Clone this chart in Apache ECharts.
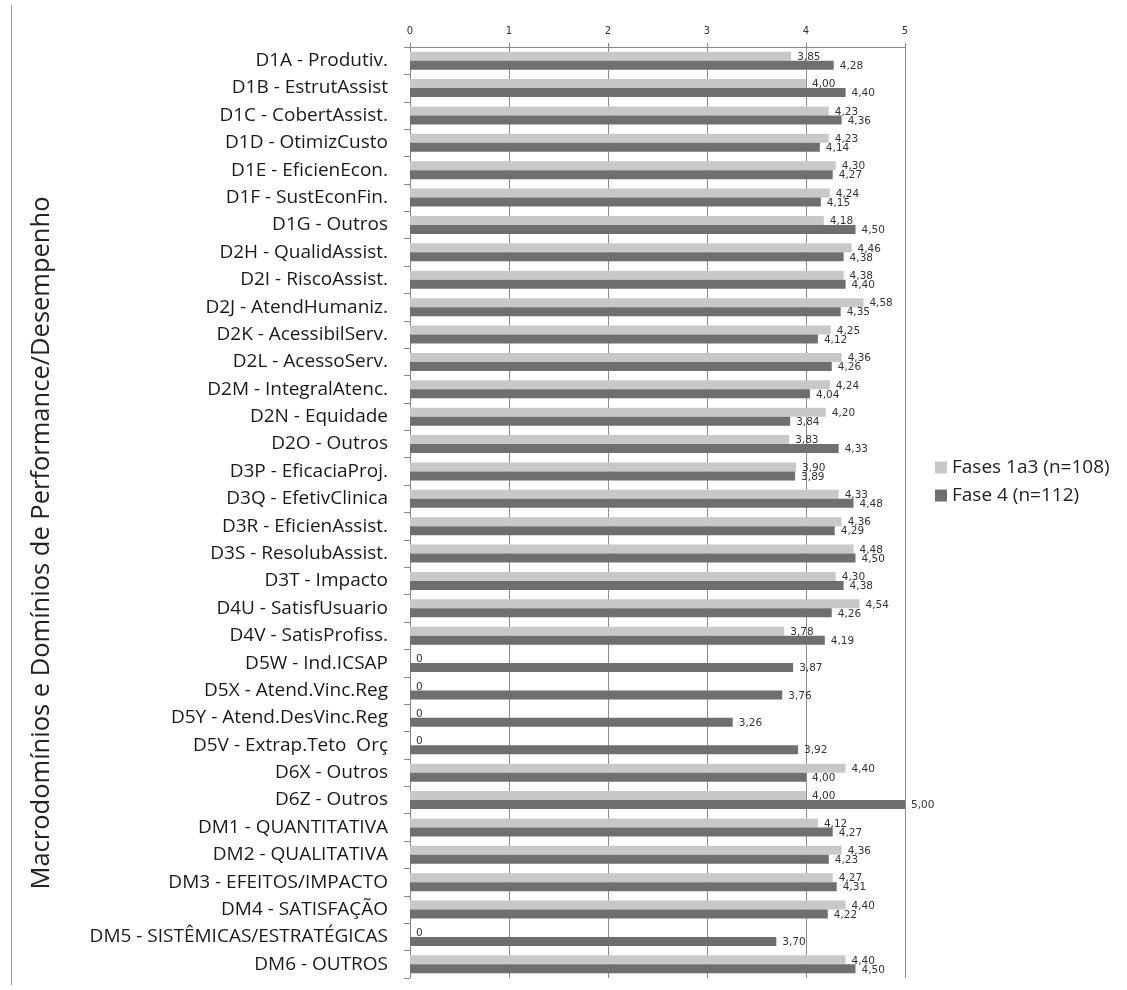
<!DOCTYPE html>
<html>
<head>
<meta charset="utf-8">
<script src="https://cdn.jsdelivr.net/npm/echarts@6/dist/echarts.min.js"></script>
<style>
  html, body { margin: 0; padding: 0; background: #ffffff; }
  #chart { width: 1127px; height: 990px; }
</style>
</head>
<body>
<div id="chart"></div>
<script>
// Domain categories, listed top to bottom
const categories = [
  'D1A - Produtiv.', 'D1B - EstrutAssist', 'D1C - CobertAssist.', 'D1D - OtimizCusto',
  'D1E - EficienEcon.', 'D1F - SustEconFin.', 'D1G - Outros', 'D2H - QualidAssist.',
  'D2I - RiscoAssist.', 'D2J - AtendHumaniz.', 'D2K - AcessibilServ.', 'D2L - AcessoServ.',
  'D2M - IntegralAtenc.', 'D2N - Equidade', 'D2O - Outros', 'D3P - EficaciaProj.',
  'D3Q - EfetivClinica', 'D3R - EficienAssist.', 'D3S - ResolubAssist.', 'D3T - Impacto',
  'D4U - SatisfUsuario', 'D4V - SatisProfiss.', 'D5W - Ind.ICSAP', 'D5X - Atend.Vinc.Reg',
  'D5Y - Atend.DesVinc.Reg', 'D5V - Extrap.Teto  Orç', 'D6X - Outros', 'D6Z - Outros',
  'DM1 - QUANTITATIVA', 'DM2 - QUALITATIVA', 'DM3 - EFEITOS/IMPACTO', 'DM4 - SATISFAÇÃO',
  'DM5 - SISTÊMICAS/ESTRATÉGICAS', 'DM6 - OUTROS'
];

// Mean scores, phases 1 to 3
const fases1a3 = [
  3.85, 4.00, 4.23, 4.23, 4.30, 4.24, 4.18, 4.46, 4.38, 4.58, 4.25, 4.36,
  4.24, 4.20, 3.83, 3.90, 4.33, 4.36, 4.48, 4.30, 4.54, 3.78, 0, 0,
  0, 0, 4.40, 4.00, 4.12, 4.36, 4.27, 4.40, 0, 4.40
];

// Mean scores, phase 4
const fase4 = [
  4.28, 4.40, 4.36, 4.14, 4.27, 4.15, 4.50, 4.38, 4.40, 4.35, 4.12, 4.26,
  4.04, 3.84, 4.33, 3.89, 4.48, 4.29, 4.50, 4.38, 4.26, 4.19, 3.87, 3.76,
  3.26, 3.92, 4.00, 5.00, 4.27, 4.23, 4.31, 4.22, 3.70, 4.50
];

const seriesNames = ['Fases 1a3 (n=108)', 'Fase 4 (n=112)'];
const valueTicks = [0, 1, 2, 3, 4, 5];
const axisTitle = 'Macrodomínios e Domínios de Performance/Desempenho';

const fmt = v => (v === 0 ? '0' : v.toFixed(2).replace('.', ','));

const chart = echarts.init(document.getElementById('chart'));

const labelStyle = {
  show: true,
  position: 'right',
  distance: 6,
  fontFamily: 'DejaVu Sans',
  fontSize: 10.5,
  color: '#333333',
  formatter: p => fmt(p.value)
};

chart.setOption({
  animation: false,
  backgroundColor: '#ffffff',
  grid: { left: 410, right: 222, top: 47, bottom: 12 },
  legend: {
    orient: 'vertical',
    left: 930,
    top: 453,
    itemWidth: 12,
    itemHeight: 12,
    itemGap: 9,
    icon: 'rect',
    textStyle: { fontFamily: 'Open Sans', fontSize: 19, color: '#222222' },
    data: seriesNames
  },
  xAxis: {
    type: 'value',
    position: 'top',
    min: valueTicks[0],
    max: valueTicks[valueTicks.length - 1],
    interval: 1,
    axisLine: { show: true, lineStyle: { color: '#888888', width: 1 } },
    axisTick: { show: true, length: 4, lineStyle: { color: '#888888' } },
    axisLabel: { fontFamily: 'DejaVu Sans', fontSize: 10, color: '#333333', margin: 11 },
    splitLine: { show: true, lineStyle: { color: '#8c8c8c', width: 1 } }
  },
  yAxis: {
    type: 'category',
    inverse: true,
    data: categories,
    axisLine: { show: true, lineStyle: { color: '#888888', width: 1 } },
    axisTick: { show: true, length: 6, lineStyle: { color: '#888888' } },
    axisLabel: { fontFamily: 'Open Sans', fontSize: 19, color: '#1a1a1a', margin: 22 }
  },
  series: [
    {
      name: seriesNames[0],
      type: 'bar',
      data: fases1a3,
      barWidth: 9,
      barGap: '0%',
      itemStyle: { color: '#c8c8c8' },
      label: Object.assign({}, labelStyle, { offset: [0, 1] })
    },
    {
      name: seriesNames[1],
      type: 'bar',
      data: fase4,
      barWidth: 9,
      barGap: '0%',
      itemStyle: { color: '#6f6f6f' },
      label: Object.assign({}, labelStyle, { offset: [0, 1] })
    }
  ],
  graphic: [
    {
      type: 'line',
      shape: { x1: 11.5, y1: 5, x2: 11.5, y2: 985 },
      style: { stroke: '#9a9a9a', lineWidth: 1 }
    },
    {
      type: 'text',
      x: 42,
      y: 543,
      rotation: Math.PI / 2,
      style: {
        text: axisTitle,
        fontFamily: 'Open Sans',
        fontSize: 25.5,
        fill: '#222222',
        align: 'center',
        verticalAlign: 'middle'
      }
    }
  ]
});
</script>
</body>
</html>
